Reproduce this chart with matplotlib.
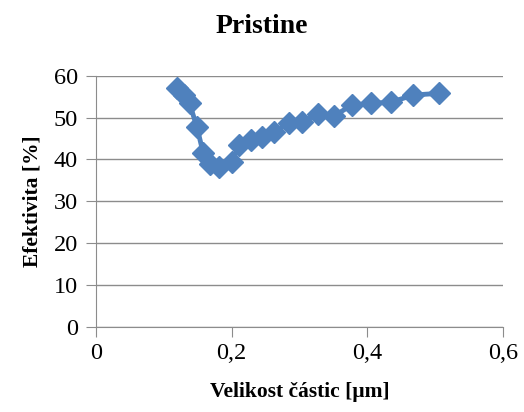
import matplotlib
matplotlib.use('Agg')
import matplotlib.pyplot as plt
from matplotlib.ticker import FuncFormatter

# Data
size_um = [0.119, 0.130, 0.138, 0.149, 0.158, 0.168, 0.182, 0.200, 0.211, 0.228, 0.245,
           0.263, 0.284, 0.303, 0.328, 0.351, 0.377, 0.405, 0.435, 0.468, 0.505]
efficiency = [57.0, 55.4, 53.4, 47.7, 41.6, 38.9, 38.1, 39.4, 43.4, 44.6, 45.4,
              46.5, 48.8, 49.0, 50.8, 50.4, 53.0, 53.4, 53.7, 55.4, 55.8]

plt.rcParams['font.family'] = ['Liberation Serif', 'DejaVu Serif']

fig = plt.figure(figsize=(5.24, 4.12), dpi=100)
ax = fig.add_axes([0.183, 0.207, 0.777, 0.609])

ax.plot(size_um, efficiency, color='#4F81BD', lw=3.5, marker='D', markersize=11,
        zorder=3)

ax.set_xlim(0, 0.6)
ax.set_ylim(0, 60)
ax.set_xticks([0, 0.2, 0.4, 0.6])
ax.set_yticks(range(0, 61, 10))
ax.xaxis.set_major_formatter(FuncFormatter(lambda v, p: ('%g' % round(v, 1)).replace('.', ',')))
ax.grid(axis='y', color='#8c8c8c', lw=1)
ax.set_axisbelow(True)
for s in ['top', 'right']:
    ax.spines[s].set_visible(False)
for s in ['left', 'bottom']:
    ax.spines[s].set_color('#8c8c8c')
ax.tick_params(labelsize=17.5, color='#8c8c8c', length=7, direction='out')
ax.tick_params(axis='y', pad=6)
ax.tick_params(axis='x', pad=5)

fig.text(0.5, 0.935, 'Pristine', fontsize=20, fontweight='bold', ha='center', va='center')
ax.set_xlabel('Velikost částic [µm]', fontsize=15.5, fontweight='bold', labelpad=13)
ax.set_ylabel('Efektivita [%]', fontsize=15.5, fontweight='bold', labelpad=8)

fig.savefig('out.png', dpi=100)
